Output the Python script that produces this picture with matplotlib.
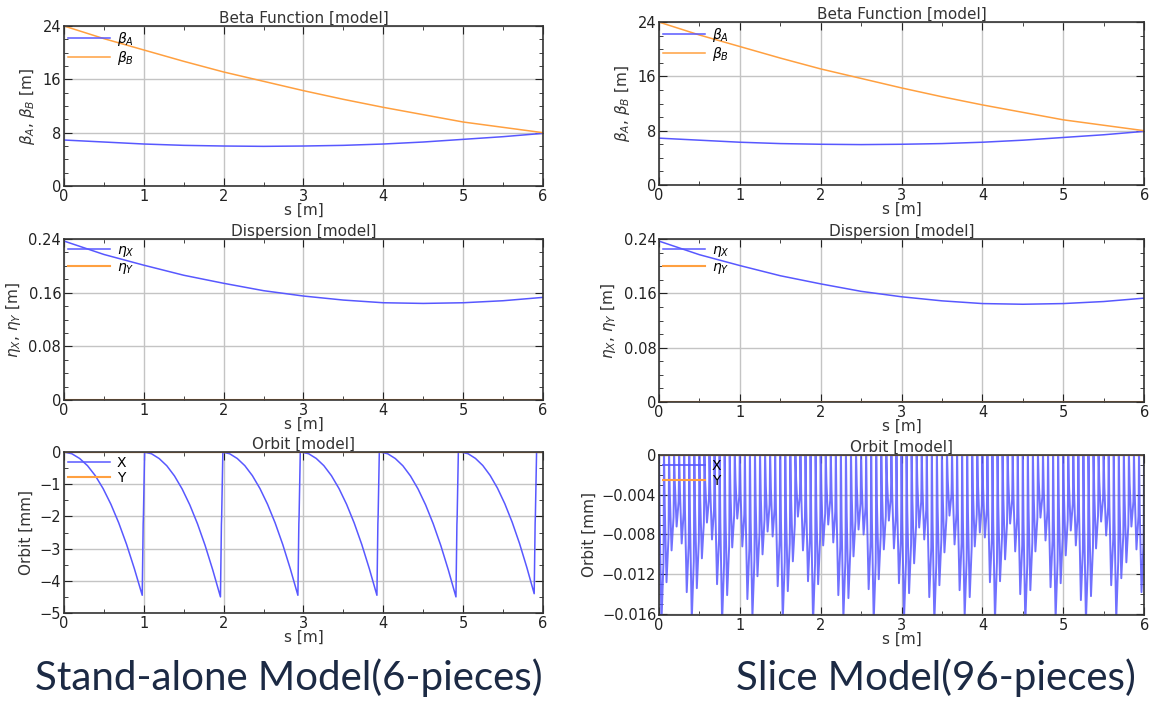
import numpy as np
import matplotlib
matplotlib.use('Agg')
import matplotlib.pyplot as plt
from matplotlib.ticker import MultipleLocator, FuncFormatter

# beta / dispersion readings (same for both models)
s_pts = [0, 0.5, 1, 1.5, 2, 2.5, 3, 3.5, 4, 4.5, 5, 5.5, 6]
beta_a = [6.9, 6.6, 6.3, 6.1, 6.0, 5.95, 6.0, 6.1, 6.3, 6.6, 7.0, 7.4, 7.9]
beta_b = [24.0, 22.1, 20.4, 18.7, 17.1, 15.7, 14.3, 13.0, 11.8, 10.7, 9.6, 8.8, 8.0]
eta_x = [0.237, 0.217, 0.201, 0.186, 0.174, 0.163, 0.155, 0.149, 0.145, 0.144, 0.145, 0.148, 0.153]
eta_y = [0]*13

# orbit shape inside one piece (fraction of piece, normalised offset)
piece_frac = [0, 0.1, 0.2, 0.3, 0.4, 0.5, 0.6, 0.7, 0.8, 0.9, 1.0]
piece_shape = [0, -0.012, -0.045, -0.095, -0.165, -0.255, -0.365, -0.495, -0.645, -0.815, -1.0]
# slice pieces are drawn coarsely -> nearly straight V
slice_frac = [0, 0.15, 0.55, 1.0]
slice_shape = [0, -0.4, -1.0, -0.65]

# stand-alone model: 6 pieces [mm]
sa_start = [0.0, 1.0, 1.98, 2.97, 3.96, 4.97]
sa_dip = [0.98, 1.96, 2.93, 3.92, 4.91, 5.89]
sa_depth = [4.45, 4.5, 4.45, 4.45, 4.5, 4.4]

# slice model: 96 pieces, apparent depth of each [mm]
sl_depth = [
    -0.0168, -0.0128, -0.0096, -0.0072, -0.0089, -0.0138,
    -0.0165, -0.0134, -0.0104, -0.0068, -0.0085, -0.0130,
    -0.0168, -0.0141, -0.0093, -0.0064, -0.0092, -0.0145,
    -0.0163, -0.0122, -0.0100, -0.0077, -0.0082, -0.0132,
    -0.0166, -0.0137, -0.0107, -0.0062, -0.0096, -0.0127,
    -0.0169, -0.0130, -0.0091, -0.0070, -0.0088, -0.0141,
    -0.0164, -0.0144, -0.0102, -0.0075, -0.0080, -0.0135,
    -0.0167, -0.0125, -0.0095, -0.0066, -0.0094, -0.0129,
    -0.0165, -0.0139, -0.0109, -0.0073, -0.0085, -0.0143,
    -0.0168, -0.0131, -0.0098, -0.0061, -0.0090, -0.0136,
    -0.0162, -0.0143, -0.0092, -0.0078, -0.0083, -0.0128,
    -0.0166, -0.0127, -0.0105, -0.0069, -0.0097, -0.0140,
    -0.0169, -0.0136, -0.0097, -0.0063, -0.0086, -0.0133,
    -0.0164, -0.0129, -0.0101, -0.0076, -0.0091, -0.0146,
    -0.0167, -0.0142, -0.0094, -0.0067, -0.0081, -0.0131,
    -0.0165, -0.0124, -0.0108, -0.0072, -0.0095, -0.0138,
]

BLUE = '#5858ff'
ORANGE = '#ffa040'
GRID = '#c4c4c4'
TXT = '#333333'


def build_orbit(starts, dips, depths, gap, frac, shape):
    s, x = [], []
    for a, b, d in zip(starts, dips, depths):
        for f, v in zip(frac, shape):
            s.append(a + f*(b - a))
            x.append(v*abs(d))
        s += [b + gap*0.4, b + gap*0.5, b + gap]
        x += [-abs(d)*0.5, -abs(d)*0.45, 0]
    s.append(6.0)
    x.append(0)
    return s, x


def fmt(v, p):
    if abs(v) < 1e-12:
        return '0'
    return ('%g' % v).replace('-', '\u2212')


def style(ax, ymin, ymax, ymaj, ymin_step, title, ylabel):
    ax.set_xlim(0, 6)
    ax.set_ylim(ymin, ymax)
    ax.xaxis.set_major_locator(MultipleLocator(1))
    ax.xaxis.set_minor_locator(MultipleLocator(0.5))
    ax.yaxis.set_major_locator(MultipleLocator(ymaj))
    ax.yaxis.set_minor_locator(MultipleLocator(ymin_step))
    ax.yaxis.set_major_formatter(FuncFormatter(fmt))
    ax.xaxis.set_major_formatter(FuncFormatter(fmt))
    ax.tick_params(which='both', direction='in', top=True, right=True,
                   labelsize=10.5, colors='#222222', pad=2)
    ax.tick_params(which='major', length=6)
    ax.tick_params(which='minor', length=3)
    ax.grid(True, which='major', color=GRID, lw=1)
    ax.set_axisbelow(True)
    for sp in ax.spines.values():
        sp.set_color('#333333')
        sp.set_linewidth(1.2)
    ax.set_title(title, fontsize=11, color=TXT, pad=2)
    ax.set_xlabel('s [m]', fontsize=11, color=TXT, labelpad=-1)
    ax.set_ylabel(ylabel, fontsize=11, color=TXT, labelpad=4)
    ax.legend(loc='upper left', frameon=False, fontsize=10, handlelength=3.0,
              labelspacing=0.05, borderaxespad=0.2, handletextpad=0.5,
              borderpad=0.1)


fig = plt.figure(figsize=(11.55, 7.02), dpi=100)

cols = [(0.0554, 0.4147), (0.5706, 0.420)]
rows_left = [(0.735, 0.228), (0.4302, 0.2293), (0.1268, 0.2293)]
rows_right = [(0.7365, 0.232), (0.4274, 0.232), (0.1239, 0.228)]

for c, (x0, w) in enumerate(cols):
    rows = rows_left if c == 0 else rows_right
    ax1 = fig.add_axes([x0, rows[0][0], w, rows[0][1]])
    ax1.plot(s_pts, beta_a, color=BLUE, lw=1.1, label=r'$\beta_A$')
    ax1.plot(s_pts, beta_b, color=ORANGE, lw=1.1, label=r'$\beta_B$')
    style(ax1, 0, 24, 8, 2, 'Beta Function [model]', r'$\beta_A$, $\beta_B$ [m]')

    ax2 = fig.add_axes([x0, rows[1][0], w, rows[1][1]])
    ax2.plot(s_pts, eta_x, color=BLUE, lw=1.1, label=r'$\eta_X$')
    ax2.plot(s_pts, eta_y, color=ORANGE, lw=1.5, label=r'$\eta_Y$')
    style(ax2, 0, 0.24, 0.08, 0.02, 'Dispersion [model]', r'$\eta_X$, $\eta_Y$ [m]')

    ax3 = fig.add_axes([x0, rows[2][0], w, rows[2][1]])
    if c == 0:
        so, xo = build_orbit(sa_start, sa_dip, sa_depth, 0.03, piece_frac, piece_shape)
        ax3.plot(so, xo, color=BLUE, lw=1.1, label='X')
        ax3.plot([0, 6], [0, 0], color=ORANGE, lw=1.5, label='Y')
        style(ax3, -5, 0, 1, 0.5, 'Orbit [model]', 'Orbit [mm]')
    else:
        n = len(sl_depth)
        starts = [6.0*i/n for i in range(n)]
        dips = [6.0*(i + 1)/n - 0.008 for i in range(n)]
        so, xo = build_orbit(starts, dips, sl_depth, 0.006, slice_frac, slice_shape)
        ax3.plot(so, xo, color=BLUE, lw=1.4, alpha=0.85, label='X')
        ax3.plot([0, 6], [0, 0], color=ORANGE, lw=1.5, label='Y')
        style(ax3, -0.0161, 0, 0.004, 0.001, 'Orbit [model]', 'Orbit [mm]')

fig.text(0.25, 0.035, 'Stand-alone Model(6-pieces)', ha='center', va='center',
         fontsize=29, color='#1c2a44', family='Lato')
fig.text(0.81, 0.035, 'Slice Model(96-pieces)', ha='center', va='center',
         fontsize=29, color='#1c2a44', family='Lato')

fig.savefig('out.png', dpi=100)
